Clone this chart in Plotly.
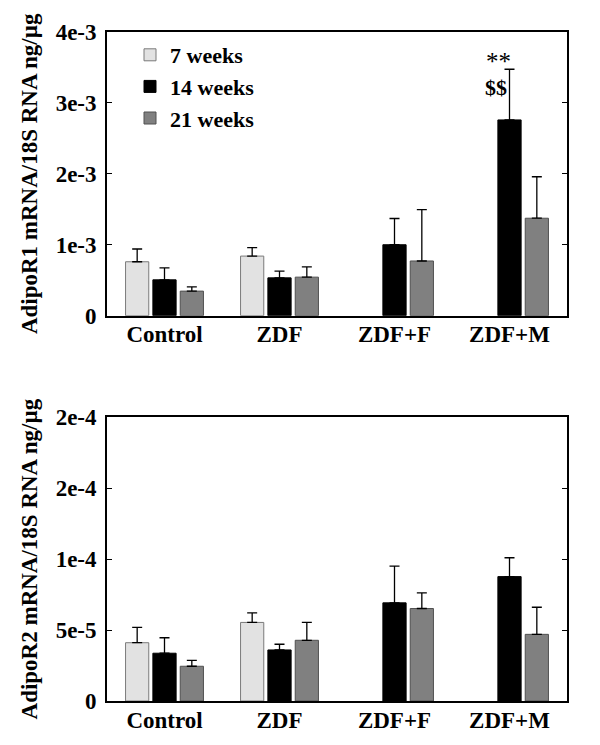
import plotly.graph_objects as go
from plotly.subplots import make_subplots

categories = ["Control", "ZDF", "ZDF+F", "ZDF+M"]
series_names = ["7 weeks", "14 weeks", "21 weeks"]

# AdipoR1 (top panel)
r1_7 = [0.76e-3, 0.84e-3, None, None]
r1_7_err = [0.18e-3, 0.12e-3, None, None]
r1_14 = [0.505e-3, 0.533e-3, 1.00e-3, 2.76e-3]
r1_14_err = [0.17e-3, 0.094e-3, 0.37e-3, 0.715e-3]
r1_21 = [0.346e-3, 0.543e-3, 0.771e-3, 1.374e-3]
r1_21_err = [0.06e-3, 0.144e-3, 0.725e-3, 0.585e-3]

# AdipoR2 (bottom panel)
r2_7 = [4.11e-5, 5.54e-5, None, None]
r2_7_err = [1.08e-5, 0.67e-5, None, None]
r2_14 = [3.37e-5, 3.60e-5, 6.92e-5, 8.77e-5]
r2_14_err = [1.09e-5, 0.40e-5, 2.59e-5, 1.33e-5]
r2_21 = [2.45e-5, 4.28e-5, 6.52e-5, 4.70e-5]
r2_21_err = [0.42e-5, 1.26e-5, 1.10e-5, 1.91e-5]

top_tickvals = [0, 1e-3, 2e-3, 3e-3, 4e-3]
top_ticktext = ["0", "1e-3", "2e-3", "3e-3", "4e-3"]
bot_tickvals = [0, 5e-5, 1e-4, 1.5e-4, 2e-4]
bot_ticktext = ["0", "5e-5", "1e-4", "2e-4", "2e-4"]

fill_colors = ["#e2e2e2", "#000000", "#808080"]
line_colors = ["#7a7a7a", "#000000", "#505050"]

FONT = "Liberation Serif"

fig = make_subplots(rows=2, cols=1, vertical_spacing=0.152)

top_data = [(r1_7, r1_7_err), (r1_14, r1_14_err), (r1_21, r1_21_err)]
bot_data = [(r2_7, r2_7_err), (r2_14, r2_14_err), (r2_21, r2_21_err)]

for row, data in ((1, top_data), (2, bot_data)):
    for i, (vals, errs) in enumerate(data):
        fig.add_trace(
            go.Bar(
                x=categories,
                y=vals,
                name=series_names[i],
                showlegend=(row == 1),
                legendgroup=series_names[i],
                marker=dict(color=fill_colors[i], line=dict(color=line_colors[i], width=1)),
                error_y=dict(
                    type="data",
                    symmetric=False,
                    array=errs,
                    arrayminus=[0 if e is not None else None for e in errs],
                    color="black",
                    thickness=1.3,
                    width=5,
                ),
            ),
            row=row,
            col=1,
        )

axis_common = dict(
    showline=True,
    linecolor="black",
    linewidth=1.8,
    mirror=True,
    showgrid=False,
    zeroline=False,
)

fig.update_xaxes(
    **axis_common,
    ticks="",
    tickfont=dict(family=FONT, size=23, color="black", weight="bold"),
    range=[-0.5, 3.5],
    ticklabelstandoff=-3,
)
fig.update_yaxes(**axis_common)
for row, rng, tv, tt, title in (
    (1, [0, 4e-3], top_tickvals, top_ticktext, "AdipoR1 mRNA/18S RNA ng/µg"),
    (2, [0, 2e-4], bot_tickvals, bot_ticktext, "AdipoR2 mRNA/18S RNA ng/µg"),
):
    fig.update_yaxes(
        range=rng,
        tickvals=tv,
        ticktext=tt,
        ticks="inside",
        ticklen=5,
        tickwidth=1.3,
        tickcolor="black",
        mirror="ticks",
        ticklabelstandoff=4,
        tickfont=dict(family=FONT, size=23, color="black", weight="bold"),
        title=dict(text=title,
                   font=dict(family=FONT, size=23, color="black", weight="bold"),
                   standoff=12),
        row=row, col=1,
    )

fig.add_annotation(x=2.9, y=3.58e-3, xref="x", yref="y", text="**", showarrow=False,
                   font=dict(family=FONT, size=25, color="black"))
fig.add_annotation(x=2.88, y=3.22e-3, xref="x", yref="y", text="&#36;&#36;", showarrow=False,
                   font=dict(family=FONT, size=22, color="black", weight="bold"))

fig.update_layout(
    width=592,
    height=737,
    margin=dict(l=99, r=33, t=22, b=43),
    paper_bgcolor="white",
    plot_bgcolor="white",
    barmode="group",
    bargap=0.287,
    bargroupgap=0.15,
    legend=dict(
        x=0.05, y=0.997, xanchor="left", yanchor="top",
        font=dict(family=FONT, size=22, color="black", weight="bold"),
        bgcolor="rgba(0,0,0,0)",
        tracegroupgap=0,
        itemwidth=30,
    ),
    font=dict(family=FONT, color="black"),
)

fig.write_html("out.html")
